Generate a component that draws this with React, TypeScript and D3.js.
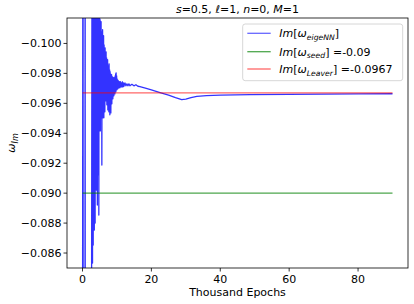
import React from "react";
import * as d3 from "d3";

const W = 414;
const H = 304;
const M = { left: 67, right: 408, top: 18, bottom: 268 };

const xTicks = [0, 20, 40, 60, 80];
const yTicks = [-0.1, -0.098, -0.096, -0.094, -0.092, -0.09, -0.088, -0.086];
const xDomain: [number, number] = [-4.5, 94.5];
const yDomain: [number, number] = [-0.1017, -0.085];

const seedValue = -0.09;
const leaverValue = -0.0967;
const refRange = [0, 90];

// [thousand epochs, Im(omega)]
const nnSeries: [number, number][] = [
  [0.0, -0.075], [0.15, -0.125], [0.2, -0.075], [0.3, -0.075], [0.72, -0.075], [0.76, -0.125], [0.8, -0.075], [2.6, -0.075],
  [2.74, -0.104], [2.79, -0.09088], [2.85, -0.104], [2.91, -0.08533], [2.95, -0.104], [3.0, -0.09289], [3.06, -0.104], [3.11, -0.08653],
  [3.17, -0.104], [3.23, -0.08954], [3.27, -0.104], [3.32, -0.09222], [3.38, -0.104], [3.43, -0.08754], [3.49, -0.104], [3.55, -0.09356],
  [3.61, -0.104], [3.67, -0.088], [3.72, -0.104], [3.78, -0.09155], [3.84, -0.104], [3.9, -0.09423], [3.96, -0.104], [4.02, -0.09021],
  [4.09, -0.104], [4.16, -0.09356], [4.23, -0.104], [4.31, -0.08921], [4.38, -0.104], [4.45, -0.09456], [4.52, -0.104], [4.6, -0.09122],
  [4.67, -0.104], [4.74, -0.08854], [4.82, -0.104], [4.89, -0.09416], [4.96, -0.104], [5.03, -0.0949],
  [5.11, -0.10159], [5.18, -0.09416], [5.25, -0.10105], [5.32, -0.09503], [5.4, -0.10145], [5.47, -0.09556], [5.54, -0.10078], [5.62, -0.09188],
  [5.69, -0.10058], [5.76, -0.09543], [5.83, -0.10092], [5.91, -0.09503], [5.98, -0.10038], [6.05, -0.09556], [6.12, -0.10052], [6.2, -0.09503],
  [6.27, -0.09991], [6.34, -0.0959], [6.42, -0.09958], [6.49, -0.09543], [6.56, -0.09971], [6.63, -0.09623], [6.71, -0.09924], [6.78, -0.09617],
  [6.85, -0.09944], [6.92, -0.09657], [7.0, -0.09904], [7.07, -0.0959], [7.14, -0.09878], [7.22, -0.09637], [7.29, -0.09891], [7.36, -0.09556],
  [7.43, -0.09851], [7.51, -0.09597], [7.58, -0.09837], [7.65, -0.09543], [7.72, -0.09864], [7.8, -0.09623], [7.87, -0.09824], [7.94, -0.09523],
  [8.02, -0.09811], [8.09, -0.0957], [8.16, -0.09797], [8.23, -0.09536], [8.31, -0.09784], [8.38, -0.09623], [8.45, -0.09791], [8.52, -0.09597],
  [8.6, -0.09771], [8.67, -0.0965], [8.74, -0.09777], [8.82, -0.0963], [8.89, -0.09764], [8.96, -0.09663], [9.03, -0.09771], [9.11, -0.0965],
  [9.18, -0.09757], [9.25, -0.09677], [9.32, -0.09771], [9.4, -0.09663], [9.47, -0.09784], [9.54, -0.09684], [9.62, -0.09797], [9.69, -0.09677],
  [9.76, -0.09804], [9.83, -0.09697], [9.91, -0.09784], [9.98, -0.0969], [10.05, -0.09764], [10.12, -0.09704], [10.2, -0.09757], [10.27, -0.09697],
  [10.42, -0.0975], [10.56, -0.09704], [10.71, -0.09744], [10.85, -0.09704], [11.0, -0.09744], [11.14, -0.0971], [11.29, -0.09737], [11.43, -0.0971],
  [11.58, -0.09744], [11.72, -0.0971], [11.87, -0.09737], [12.02, -0.09714], [12.31, -0.09737], [12.6, -0.09717], [12.89, -0.0973], [13.18, -0.09717],
  [13.47, -0.0973], [13.76, -0.09717], [14.34, -0.09727], [14.92, -0.09717], [15.51, -0.09724], [16.09, -0.09714], [16.67, -0.09712],
  [18, -0.09703], [20, -0.0969], [22.5, -0.09672], [25, -0.09655], [27, -0.09638], [28.8, -0.09625], [30, -0.09628], [31.5, -0.09638],
  [33.2, -0.09647], [36, -0.09652], [40, -0.09655], [48.7, -0.09658], [60, -0.0966], [70, -0.09662], [80, -0.09663], [90, -0.09664],
];

const FONT = "DejaVu Sans";

export default function App() {
  const x = d3.scaleLinear().domain(xDomain).range([M.left, M.right]);
  const y = d3.scaleLinear().domain(yDomain).range([M.top, M.bottom]);

  const line = d3
    .line<[number, number]>()
    .x((d) => x(d[0]))
    .y((d) => y(d[1]));

  const fmt = (v: number) => (v < 0 ? "\u2212" : "") + Math.abs(v).toFixed(3);

  const legendX = 242.7;
  const legendY = 24;
  const rows = [33.3, 51.7, 69];

  return (
    <svg width={W} height={H} style={{ position: "absolute", left: 0, top: 0 }} fontFamily={FONT}>
      <rect x={0} y={0} width={W} height={H} fill="#fff" />
      <defs>
        <clipPath id="plotclip">
          <rect x={M.left} y={M.top} width={M.right - M.left} height={M.bottom - M.top} />
        </clipPath>
      </defs>
      <g clipPath="url(#plotclip)">
        <path d={line(nnSeries) || ""} fill="none" stroke="#0000ff" strokeOpacity={0.8} strokeWidth={1.3} strokeLinejoin="round" />
        <line x1={x(refRange[0])} x2={x(refRange[1])} y1={y(seedValue)} y2={y(seedValue)} stroke="#008000" strokeOpacity={0.7} strokeWidth={1.3} />
        <line x1={x(refRange[0])} x2={x(refRange[1])} y1={y(leaverValue)} y2={y(leaverValue)} stroke="#ff0000" strokeOpacity={0.6} strokeWidth={1.3} />
      </g>
      <rect x={M.left} y={M.top} width={M.right - M.left} height={M.bottom - M.top} fill="none" stroke="#000" strokeWidth={0.8} />
      {xTicks.map((t) => (
        <g key={"x" + t}>
          <line x1={x(t)} x2={x(t)} y1={M.bottom} y2={M.bottom + 3.5} stroke="#000" strokeWidth={0.8} />
          <text x={x(t)} y={M.bottom + 15} fontSize={11} textAnchor="middle" fill="#000">{t}</text>
        </g>
      ))}
      {yTicks.map((t) => (
        <g key={"y" + t}>
          <line x1={M.left - 3.5} x2={M.left} y1={y(t)} y2={y(t)} stroke="#000" strokeWidth={0.8} />
          <text x={M.left - 5.5} y={y(t) + 4} fontSize={11} textAnchor="end" fill="#000">{fmt(t)}</text>
        </g>
      ))}
      <text x={(M.left + M.right) / 2} y={296} fontSize={11} textAnchor="middle" fill="#000">Thousand Epochs</text>
      <text transform={`translate(15, ${(M.top + M.bottom) / 2}) rotate(-90)`} fontSize={11} textAnchor="middle" fill="#000">
        <tspan fontStyle="italic">ω</tspan>
        <tspan fontStyle="italic" fontSize={8} dy={2.5}>Im</tspan>
      </text>
      <text x={(M.left + M.right) / 2} y={13} fontSize={11} textAnchor="middle" fill="#000">
        <tspan fontStyle="italic">s</tspan>=0.5, <tspan fontStyle="italic">ℓ</tspan>=1, <tspan fontStyle="italic">n</tspan>=0, <tspan fontStyle="italic">M</tspan>=1
      </text>
      <rect x={legendX} y={legendY} width={160} height={56.7} rx={2.5} fill="#fff" fillOpacity={0.8} stroke="#cccccc" strokeWidth={0.8} />
      <line x1={247.3} x2={270.7} y1={rows[0]} y2={rows[0]} stroke="#0000ff" strokeOpacity={0.6} strokeWidth={1.3} />
      <line x1={247.3} x2={270.7} y1={rows[1]} y2={rows[1]} stroke="#008000" strokeOpacity={0.7} strokeWidth={1.3} />
      <line x1={247.3} x2={270.7} y1={rows[2]} y2={rows[2]} stroke="#ff0000" strokeOpacity={0.6} strokeWidth={1.3} />
      <text x={279.3} y={rows[0] + 4} fontSize={11} fill="#000">
        <tspan fontStyle="italic">Im</tspan>[<tspan fontStyle="italic">ω</tspan>
        <tspan fontStyle="italic" fontSize={7.7} dy={2.5}>eigeNN</tspan>
        <tspan dy={-2.5}>]</tspan>
      </text>
      <text x={279.3} y={rows[1] + 4} fontSize={11} fill="#000">
        <tspan fontStyle="italic">Im</tspan>[<tspan fontStyle="italic">ω</tspan>
        <tspan fontStyle="italic" fontSize={7.7} dy={2.5}>seed</tspan>
        <tspan dy={-2.5}>] =-0.09</tspan>
      </text>
      <text x={279.3} y={rows[2] + 4} fontSize={11} fill="#000">
        <tspan fontStyle="italic">Im</tspan>[<tspan fontStyle="italic">ω</tspan>
        <tspan fontStyle="italic" fontSize={7.7} dy={2.5}>Leaver</tspan>
        <tspan dy={-2.5}>] =-0.0967</tspan>
      </text>
    </svg>
  );
}
